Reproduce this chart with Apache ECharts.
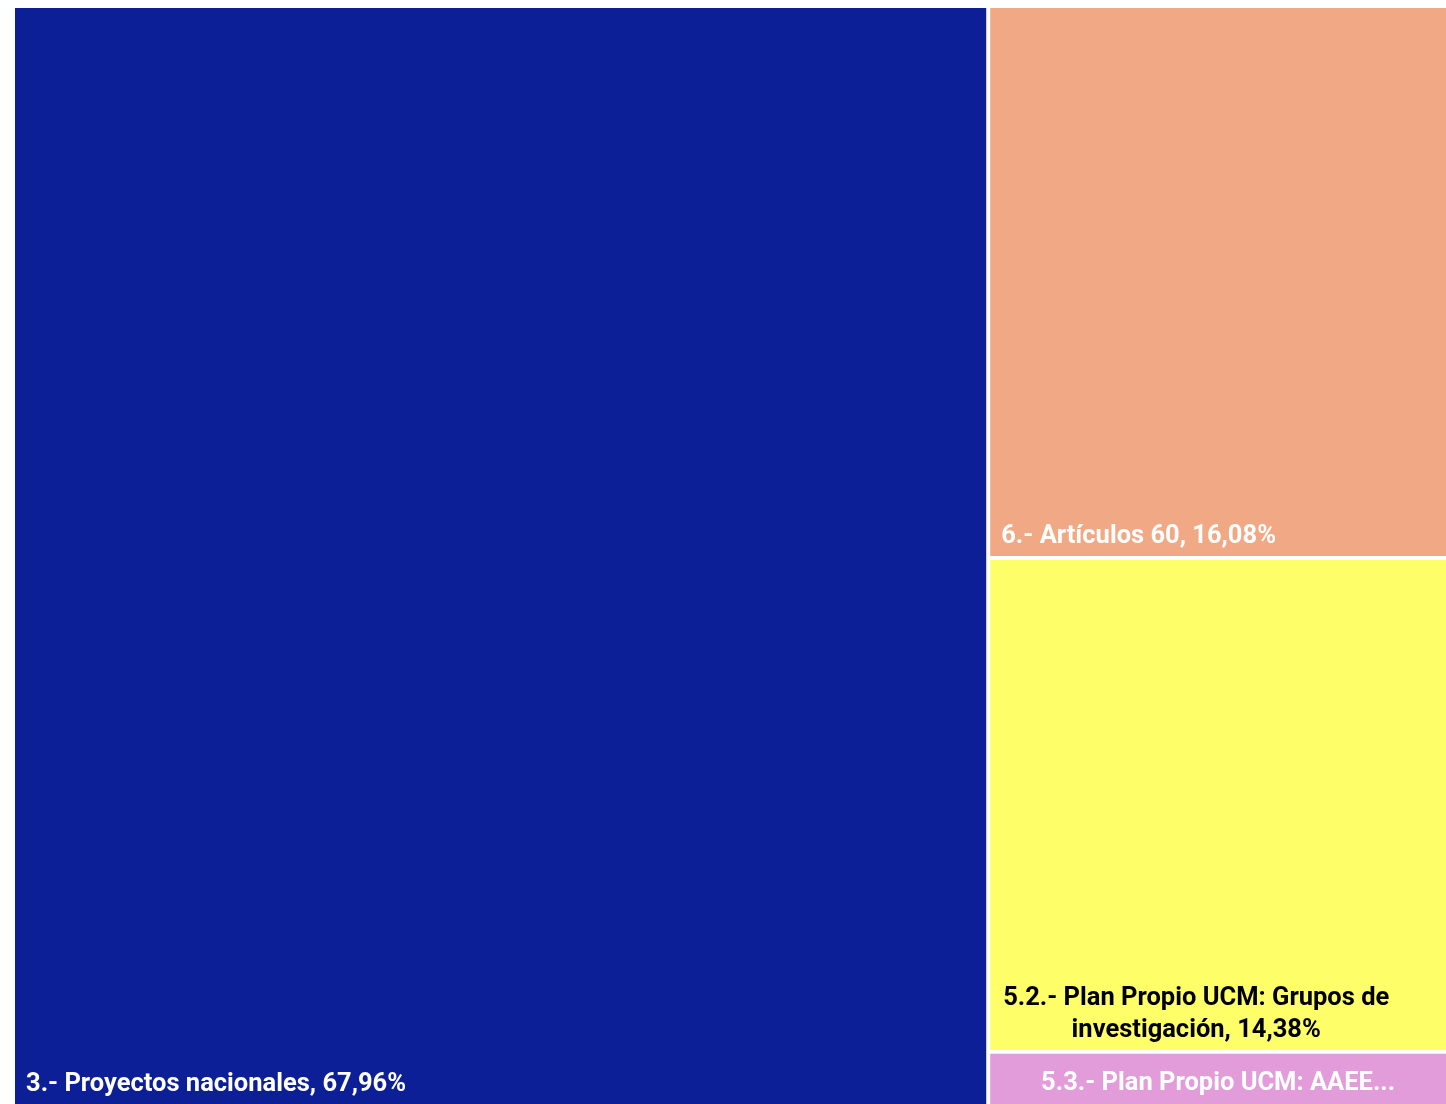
<!DOCTYPE html>
<html>
<head>
<meta charset="utf-8">
<script src="https://cdn.jsdelivr.net/npm/echarts@6/dist/echarts.min.js"></script>
<style>
html,body{margin:0;padding:0;background:#ffffff;}
#chart{width:1446px;height:1104px;}
</style>
</head>
<body>
<div id="chart"></div>
<script>
const categories = ['3.- Proyectos nacionales', '6.- Artículos 60', '5.2.- Plan Propio UCM: Grupos de investigación', '5.3.- Plan Propio UCM: AAEE'];
const shares = [67.96, 16.08, 14.38, 1.58];
const colors = ['#0C1F97', '#F0A984', '#FEFE68', '#E29CDA'];
const textColors = ['#ffffff', '#ffffff', '#000000', '#ffffff'];

const FONT = 'Roboto, sans-serif';
function pct(v) { return v.toFixed(2).replace('.', ',') + '%'; }

const data = categories.map((name, i) => {
  const item = {
    name: name,
    value: shares[i],
    itemStyle: { color: colors[i] },
    label: {
      color: textColors[i],
      fontFamily: FONT,
      fontWeight: 'bold',
      fontSize: 25.5,
      lineHeight: 32,
      position: [6, '100%'],
      align: 'left',
      verticalAlign: 'bottom',
      offset: [0, 2]
    }
  };
  if (i === 2) {
    item.label.formatter = '5.2.- Plan Propio UCM: Grupos de\ninvestigación, ' + pct(shares[i]);
    item.label.align = 'center';
    item.label.position = [206, '100%'];
  } else if (i === 3) {
    item.label.formatter = name + '...';
    item.label.position = 'inside';
    item.label.align = 'center';
    item.label.verticalAlign = 'middle';
    item.label.offset = [0, 5];
  } else {
    item.label.formatter = name + ', ' + pct(shares[i]);
  }
  return item;
});

const chart = echarts.init(document.getElementById('chart'), null, { renderer: 'canvas' });
chart.setOption({
  backgroundColor: '#ffffff',
  animation: false,
  series: [{
    type: 'treemap',
    left: 15,
    top: 8,
    right: 0,
    bottom: 0,
    roam: false,
    nodeClick: false,
    breadcrumb: { show: false },
    itemStyle: { gapWidth: 4, borderWidth: 0, borderColor: '#ffffff' },
    levels: [{ itemStyle: { gapWidth: 4, borderWidth: 0, borderColor: '#ffffff' } }],
    label: { show: true },
    data: data
  }]
});
</script>
</body>
</html>
